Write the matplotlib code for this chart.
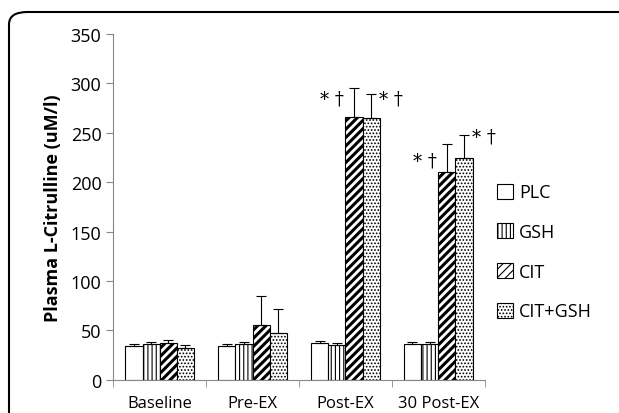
import numpy as np
import matplotlib
matplotlib.use('Agg')
import matplotlib.pyplot as plt
from matplotlib.patches import FancyBboxPatch

plt.rcParams['font.family'] = ['Open Sans', 'DejaVu Sans']
plt.rcParams['hatch.linewidth'] = 0.8

# data
categories = ['Baseline', 'Pre-EX', 'Post-EX', '30 Post-EX']
groups = ['PLC', 'GSH', 'CIT', 'CIT+GSH']
means = {
    'PLC': [34, 34, 37, 36],
    'GSH': [36, 36, 35, 36],
    'CIT': [37, 56, 266, 210],
    'CIT+GSH': [32, 47, 265, 224],
}
errors = {
    'PLC': [2, 2, 2, 2],
    'GSH': [2, 2, 2, 2],
    'CIT': [3, 29, 29, 29],
    'CIT+GSH': [3, 25, 24, 24],
}
hatches = {'PLC': '', 'GSH': '||||', 'CIT': '////', 'CIT+GSH': '.....'}
# significance marks: (category index, group, y position)
marks = [(2, 'CIT', 285), (2, 'CIT+GSH', 285), (3, 'CIT', 222), (3, 'CIT+GSH', 246)]

fig = plt.figure(figsize=(6.19, 4.14), dpi=100)
ax = fig.add_axes([0.183, 0.080, 0.600, 0.836])

x = np.arange(len(categories))
w = 0.185
for i, g in enumerate(groups):
    pos = x + (i - 1.5) * w
    lw_h = 2.2 if g == 'CIT' else 0.8
    bars = ax.bar(pos, means[g], w, color='white', edgecolor='black',
                  linewidth=0.8, hatch=hatches[g], label=g)
    for b in bars:
        b._hatch_linewidth = lw_h
    ax.errorbar(pos, means[g], yerr=[np.zeros(4), errors[g]], fmt='none',
                ecolor='black', elinewidth=0.8, capsize=3.5, capthick=0.8)

for ci, g, yv in marks:
    off = -0.24 if g == 'CIT' else 0.21
    xp = ci + (groups.index(g) - 1.5) * w + off
    ax.text(xp, yv, '* \u2020', ha='center', va='center', fontsize=13,
            family=['DejaVu Serif'])

ax.set_xlim(-0.5, 3.5)
ax.set_ylim(0, 350)
ax.set_yticks(range(0, 351, 50))
ax.set_xticks(x)
ax.set_xticklabels(categories)
ax.set_xticks(np.arange(-0.5, 4, 1), minor=True)
ax.tick_params(axis='x', which='major', length=0, labelsize=12, pad=11)
ax.tick_params(axis='x', which='minor', length=5, color='#888888')
ax.tick_params(axis='y', length=5, color='#888888', labelsize=13)
for s in ['top', 'right']:
    ax.spines[s].set_visible(False)
for s in ['left', 'bottom']:
    ax.spines[s].set_color('#888888')
ax.set_ylabel('Plasma L-Citrulline (uM/l)', fontsize=13, fontweight='bold', labelpad=6)

leg = ax.legend(loc='center left', bbox_to_anchor=(0.99, 0.37), frameon=False,
                fontsize=13, handlelength=0.9, handleheight=0.9,
                labelspacing=1.2, handletextpad=0.3)

# rounded figure border
border = FancyBboxPatch((9 / 619, -0.1), 1.1, 1 - 13 / 414 + 0.1,
                        boxstyle='round,pad=0,rounding_size=0.03',
                        transform=fig.transFigure, facecolor='none',
                        edgecolor='black', linewidth=1.5, clip_on=False)
fig.patches.append(border)

fig.savefig('out.png', dpi=100)
